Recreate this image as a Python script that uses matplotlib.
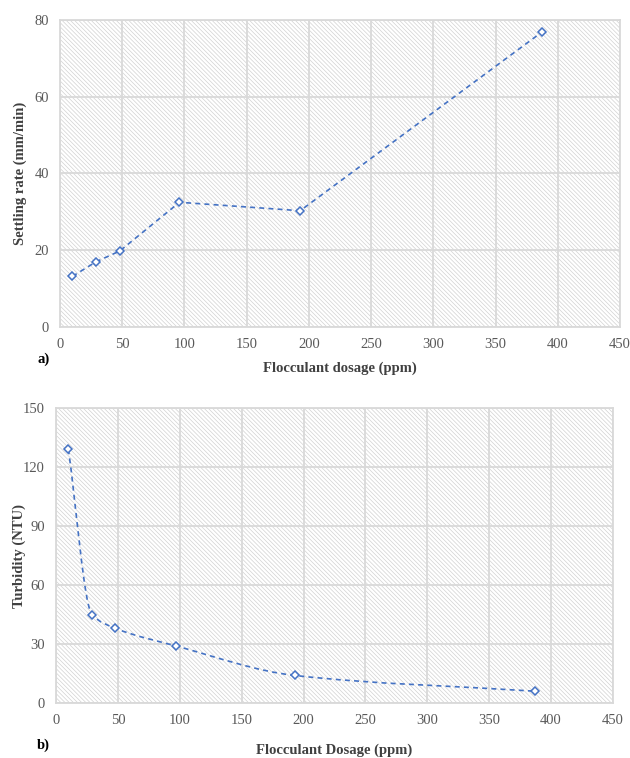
import matplotlib
matplotlib.use("Agg")
import matplotlib.pyplot as plt
import numpy as np
from matplotlib.patches import Rectangle, PathPatch
from matplotlib.path import Path

dosage_a = [10, 29, 48, 96, 193, 387]
settling_rate = [13.2, 17.0, 19.8, 32.5, 30.3, 76.8]

dosage_b = [10, 29, 48, 97, 193, 387]
turbidity = [129, 45, 38, 29, 14, 6]

xticks = [0, 50, 100, 150, 200, 250, 300, 350, 400, 450]
yticks_a = [0, 20, 40, 60, 80]
yticks_b = [0, 30, 60, 90, 120, 150]

plt.rcParams['font.family'] = ['Liberation Serif', 'DejaVu Serif']
plt.rcParams['hatch.linewidth'] = 0.5
plt.rcParams['hatch.color'] = '#d2d2d2'

BLUE = '#4472C4'
GRID = '#d9d9d9'
TICK = '#595959'
LAB = '#404040'

fig = plt.figure(figsize=(6.3, 7.58), dpi=100)
W, H = 630, 758

def mkax(l, t, r, b):
    return fig.add_axes([l / W, 1 - b / H, (r - l) / W, (b - t) / H])

def monotone_path(xs, ys):
    x = np.asarray(xs, float)
    y = np.asarray(ys, float)
    n = len(x)
    h = np.diff(x)
    d = np.diff(y) / h
    m = np.zeros(n)
    m[0] = d[0]
    m[-1] = d[-1]
    for i in range(1, n - 1):
        if d[i - 1] * d[i] <= 0:
            m[i] = 0.0
        else:
            w1 = 2 * h[i] + h[i - 1]
            w2 = h[i] + 2 * h[i - 1]
            m[i] = (w1 + w2) / (w1 / d[i - 1] + w2 / d[i])
    verts = [(x[0], y[0])]
    codes = [Path.MOVETO]
    for i in range(n - 1):
        c1 = (x[i] + h[i] / 3, y[i] + m[i] * h[i] / 3)
        c2 = (x[i + 1] - h[i] / 3, y[i + 1] - m[i + 1] * h[i] / 3)
        verts += [c1, c2, (x[i + 1], y[i + 1])]
        codes += [Path.CURVE4] * 3
    return Path(verts, codes)

def style(ax, yticks, ylabel, xlabel, tag, ymax, tagx, tagy, ylx, xly):
    ax.set_xlim(0, 450)
    ax.set_ylim(0, ymax)
    ax.add_patch(Rectangle((0, 0), 1, 1, transform=ax.transAxes, facecolor='white',
                           edgecolor='#d2d2d2', hatch='\\' * 8, linewidth=0, zorder=0))
    ax.set_xticks(xticks)
    ax.set_yticks(yticks)
    ax.grid(True, color=GRID, linewidth=1.3, zorder=1)
    ax.set_axisbelow(False)
    for s in ax.spines.values():
        s.set_color(GRID)
        s.set_linewidth(1.3)
    ax.tick_params(length=0, labelsize=10.5, colors=TICK, pad=8)
    yl = ax.set_ylabel(ylabel, fontsize=10.5, fontweight='bold', color=LAB)
    xl = ax.set_xlabel(xlabel, fontsize=10.5, fontweight='bold', color=LAB)
    ax.yaxis.set_label_coords(ylx, 0.5)
    ax.xaxis.set_label_coords(0.5, xly)
    yl.set_va('center')
    xl.set_va('center')
    ax.text(tagx, tagy, tag, transform=ax.transAxes, fontsize=10.5, fontweight='bold',
            color='black', ha='right', va='center')

ax1 = mkax(60, 20, 620, 327)
style(ax1, yticks_a, 'Settling rate (mm/min)', 'Flocculant dosage (ppm)', 'a)', 80,
      -0.018, -0.104, -0.0714, -0.134)
ax1.plot(dosage_a, settling_rate, linestyle=(0, (3, 2.5)), color=BLUE, linewidth=1.2,
         marker='D', markersize=4.5, markerfacecolor='white', markeredgecolor=BLUE,
         markeredgewidth=1.1, zorder=3)

ax2 = mkax(56, 408, 613, 703)
style(ax2, yticks_b, 'Turbidity (NTU)', 'Flocculant Dosage (ppm)', 'b)', 150,
      -0.011, -0.142, -0.066, -0.159)
ax2.add_patch(PathPatch(monotone_path(dosage_b, turbidity), facecolor='none', edgecolor=BLUE,
                        linewidth=1.2, linestyle=(0, (3, 2.5)), zorder=3))
ax2.plot(dosage_b, turbidity, linestyle='none', marker='D', markersize=4.5,
         markerfacecolor='white', markeredgecolor=BLUE, markeredgewidth=1.1, zorder=4)

fig.savefig('out.png', dpi=100)
